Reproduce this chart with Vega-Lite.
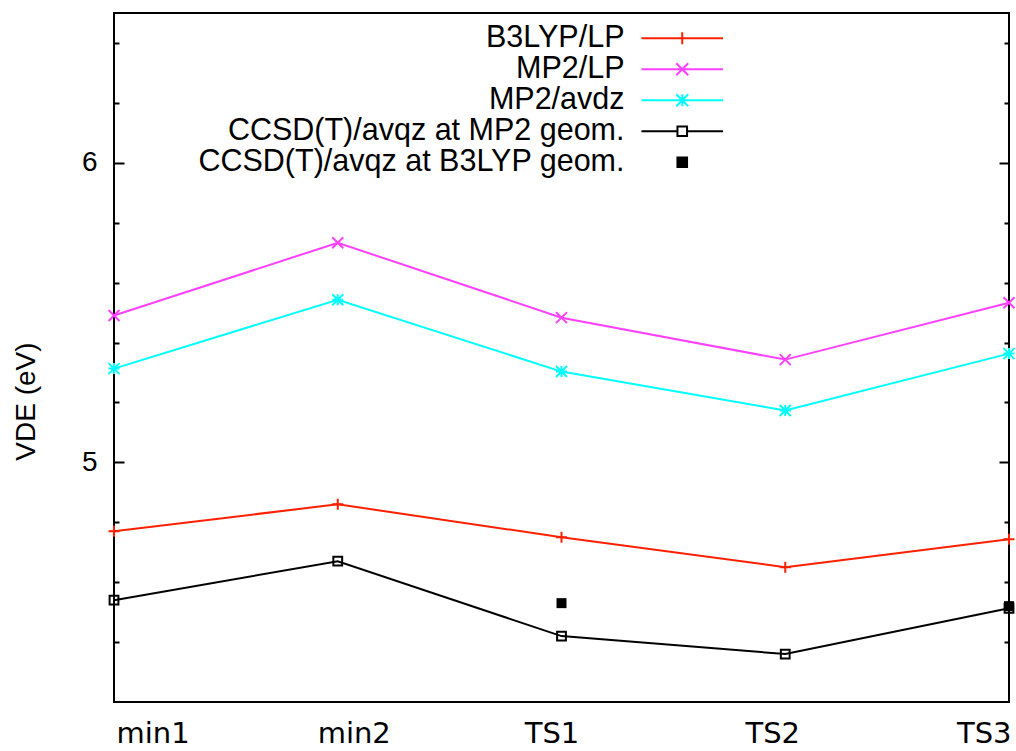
{
  "$schema": "https://vega.github.io/schema/vega-lite/v6.json",
  "width": 895,
  "height": 689,
  "autosize": {"type": "none"},
  "padding": {"left": 114, "top": 13, "right": 7, "bottom": 49},
  "background": "white",
  "config": {
    "view": {"stroke": "black", "strokeWidth": 2},
    "axis": {"grid": false, "domain": false}
  },
  "data": {
    "values": [
      {"state": "min1", "series": "B3LYP/LP", "vde": 4.77},
      {"state": "min2", "series": "B3LYP/LP", "vde": 4.86},
      {"state": "TS1", "series": "B3LYP/LP", "vde": 4.75},
      {"state": "TS2", "series": "B3LYP/LP", "vde": 4.65},
      {"state": "TS3", "series": "B3LYP/LP", "vde": 4.743},
      {"state": "min1", "series": "MP2/LP", "vde": 5.49},
      {"state": "min2", "series": "MP2/LP", "vde": 5.733},
      {"state": "TS1", "series": "MP2/LP", "vde": 5.483},
      {"state": "TS2", "series": "MP2/LP", "vde": 5.343},
      {"state": "TS3", "series": "MP2/LP", "vde": 5.533},
      {"state": "min1", "series": "MP2/avdz", "vde": 5.313},
      {"state": "min2", "series": "MP2/avdz", "vde": 5.543},
      {"state": "TS1", "series": "MP2/avdz", "vde": 5.303},
      {"state": "TS2", "series": "MP2/avdz", "vde": 5.173},
      {"state": "TS3", "series": "MP2/avdz", "vde": 5.363},
      {"state": "min1", "series": "CCSD(T)/avqz at MP2 geom.", "vde": 4.54},
      {"state": "min2", "series": "CCSD(T)/avqz at MP2 geom.", "vde": 4.67},
      {"state": "TS1", "series": "CCSD(T)/avqz at MP2 geom.", "vde": 4.42},
      {"state": "TS2", "series": "CCSD(T)/avqz at MP2 geom.", "vde": 4.36},
      {"state": "TS3", "series": "CCSD(T)/avqz at MP2 geom.", "vde": 4.513},
      {"state": "TS1", "series": "CCSD(T)/avqz at B3LYP geom.", "vde": 4.53},
      {"state": "TS3", "series": "CCSD(T)/avqz at B3LYP geom.", "vde": 4.52}
    ]
  },
  "encoding": {
    "x": {
      "field": "state", "type": "nominal",
      "scale": {"type": "point", "padding": 0, "domain": ["min1", "min2", "TS1", "TS2", "TS3"]},
      "axis": {
        "title": null, "ticks": false, "labelAngle": 0,
        "labelFont": "DejaVu Sans", "labelFontSize": 29, "labelColor": "black",
        "labelPadding": 17, "labelBaseline": "top",
        "labelAlign": {"expr": "datum.value === 'min1' ? 'left' : datum.value === 'TS3' ? 'right' : 'center'"},
        "labelOffset": {"expr": "datum.value === 'min1' ? 2 : datum.value === 'min2' ? 16 : datum.value === 'TS1' ? -10 : datum.value === 'TS2' ? -13 : 2"}
      }
    },
    "y": {
      "field": "vde", "type": "quantitative",
      "scale": {"domain": [4.2, 6.5], "nice": false, "zero": false}
    }
  },
  "layer": [
    {
      "transform": [{"filter": "datum.series !== 'CCSD(T)/avqz at B3LYP geom.'"}],
      "mark": {"type": "line", "strokeWidth": 2},
      "encoding": {
        "color": {
          "field": "series", "type": "nominal",
          "scale": {
            "domain": ["B3LYP/LP", "MP2/LP", "MP2/avdz", "CCSD(T)/avqz at MP2 geom.", "CCSD(T)/avqz at B3LYP geom."],
            "range": ["#ff2000", "#ff40ff", "#00ffff", "#000000", "#000000"]
          },
          "legend": null
        },
        "y": {
          "field": "vde", "type": "quantitative",
          "axis": {
            "title": "VDE (eV)", "titleFont": "Liberation Sans", "titleFontSize": 28, "titleFontWeight": "normal",
            "titleColor": "black", "titleAngle": -90, "titleX": -88, "titleY": 388,
            "titleAlign": "center", "titleBaseline": "middle",
            "values": [4.4, 4.6, 4.8, 5, 5.2, 5.4, 5.6, 5.8, 6, 6.2, 6.4],
            "labelExpr": "datum.value === 5 ? '5' : datum.value === 6 ? '6' : ''",
            "labelFont": "Liberation Sans", "labelFontSize": 28, "labelColor": "black",
            "tickColor": "black", "tickWidth": 2,
            "tickSize": {"expr": "datum.value === 5 || datum.value === 6 ? -10 : -5"},
            "labelPadding": 27
          }
        }
      }
    },
    {
      "transform": [{"filter": "datum.series !== 'CCSD(T)/avqz at B3LYP geom.'"}],
      "mark": {"type": "point", "filled": false, "strokeWidth": 2, "size": 121, "opacity": 1},
      "encoding": {
        "color": {
          "field": "series", "type": "nominal",
          "scale": {
            "domain": ["B3LYP/LP", "MP2/LP", "MP2/avdz", "CCSD(T)/avqz at MP2 geom.", "CCSD(T)/avqz at B3LYP geom."],
            "range": ["#ff2000", "#ff40ff", "#00ffff", "#000000", "#000000"]
          },
          "legend": null
        },
        "y": {
          "field": "vde", "type": "quantitative",
          "axis": {
            "orient": "right", "title": null, "labels": false,
            "values": [4.4, 4.6, 4.8, 5, 5.2, 5.4, 5.6, 5.8, 6, 6.2, 6.4],
            "tickColor": "black", "tickWidth": 2,
            "tickSize": {"expr": "datum.value === 5 || datum.value === 6 ? -10 : -5"}
          }
        },
        "shape": {
          "field": "series", "type": "nominal",
          "scale": {
            "domain": ["B3LYP/LP", "MP2/LP", "MP2/avdz", "CCSD(T)/avqz at MP2 geom."],
            "range": ["M-1,0H1M0,-1V1", "M-1,-1L1,1M-1,1L1,-1", "M-1,0H1M0,-1V1M-1,-1L1,1M-1,1L1,-1", "M-0.8,-0.8H0.8V0.8H-0.8Z"]
          },
          "legend": null
        }
      }
    },
    {
      "transform": [{"filter": "datum.series === 'CCSD(T)/avqz at B3LYP geom.'"}],
      "mark": {"type": "square", "filled": true, "size": 100, "opacity": 1, "color": "black"},
      "encoding": {
        "y": {"field": "vde", "type": "quantitative", "axis": null}
      }
    },
    {
      "mark": {"type": "point", "filled": false, "strokeWidth": 2, "size": 144, "opacity": 0},
      "encoding": {
        "y": {"field": "vde", "type": "quantitative", "axis": null},
        "stroke": {
          "field": "series", "type": "nominal",
          "scale": {
            "domain": ["B3LYP/LP", "MP2/LP", "MP2/avdz", "CCSD(T)/avqz at MP2 geom.", "CCSD(T)/avqz at B3LYP geom."],
            "range": ["#ff2000", "#ff40ff", "#00ffff", "#000000", "#000000"]
          },
          "legend": {
            "title": null, "orient": "none", "legendX": 553, "legendY": 10,
            "padding": 0, "symbolSize": 144, "symbolStrokeWidth": 2, "symbolOpacity": 1,
            "symbolFillColor": "transparent",
            "labelFont": "Liberation Sans", "labelFontSize": 30.5, "labelColor": "black",
            "labelAlign": "right", "labelOffset": -73, "labelLimit": 0,
            "rowPadding": -1
          }
        },
        "fill": {
          "field": "series", "type": "nominal",
          "scale": {
            "domain": ["B3LYP/LP", "MP2/LP", "MP2/avdz", "CCSD(T)/avqz at MP2 geom.", "CCSD(T)/avqz at B3LYP geom."],
            "range": ["transparent", "transparent", "transparent", "transparent", "#000000"]
          },
          "legend": {
            "title": null, "orient": "none", "legendX": 553, "legendY": 10,
            "padding": 0, "symbolSize": 144, "symbolStrokeWidth": 2, "symbolOpacity": 1,
            "symbolFillColor": "transparent",
            "labelFont": "Liberation Sans", "labelFontSize": 30.5, "labelColor": "black",
            "labelAlign": "right", "labelOffset": -73, "labelLimit": 0,
            "rowPadding": -1
          }
        },
        "shape": {
          "field": "series", "type": "nominal",
          "scale": {
            "domain": ["B3LYP/LP", "MP2/LP", "MP2/avdz", "CCSD(T)/avqz at MP2 geom.", "CCSD(T)/avqz at B3LYP geom."],
            "range": [
              "M-6.8,0H6.8M0,-1V1",
              "M-6.8,0H6.8M-1,-1L1,1M-1,1L1,-1",
              "M-6.8,0H6.8M0,-1V1M-1,-1L1,1M-1,1L1,-1",
              "M-6.8,0H-0.8M0.8,0H6.8M-0.8,-0.8H0.8V0.8H-0.8Z",
              "M-0.8,-0.8H0.8V0.8H-0.8Z"
            ]
          },
          "legend": {
            "title": null, "orient": "none", "legendX": 553, "legendY": 10,
            "padding": 0, "symbolSize": 144, "symbolStrokeWidth": 2, "symbolOpacity": 1,
            "symbolFillColor": "transparent",
            "labelFont": "Liberation Sans", "labelFontSize": 30.5, "labelColor": "black",
            "labelAlign": "right", "labelOffset": -73, "labelLimit": 0,
            "rowPadding": -1
          }
        }
      }
    }
  ],
  "resolve": {"scale": {"shape": "independent", "stroke": "independent", "fill": "independent"}, "axis": {"y": "independent"}}
}
